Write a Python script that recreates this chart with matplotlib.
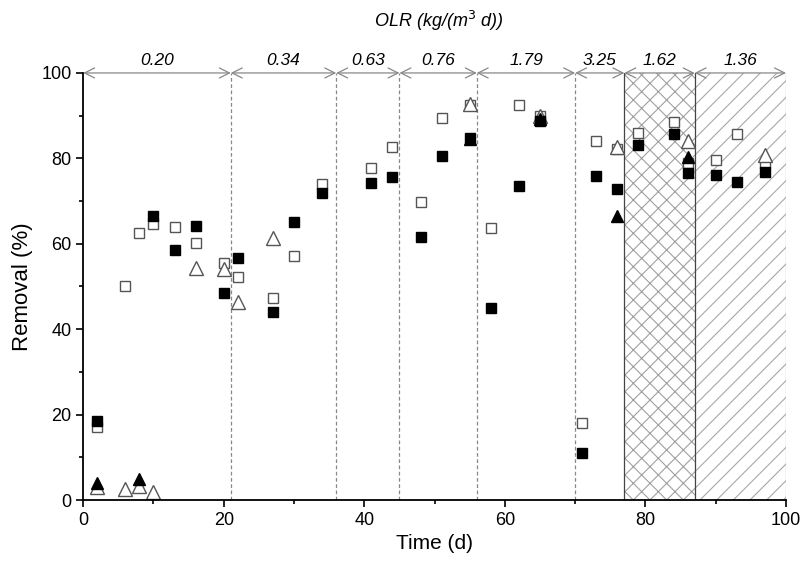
import numpy as np
import matplotlib
matplotlib.use('Agg')
import matplotlib.pyplot as plt
from matplotlib.patches import Rectangle

plt.rcParams['font.family'] = ['Liberation Sans', 'DejaVu Sans']
plt.rcParams['hatch.linewidth'] = 0.8

# filled squares
fsq_t = [2, 10, 13, 16, 20, 22, 27, 30, 34, 41, 44, 48, 51, 55, 58, 62, 65, 71, 73, 76, 79, 84, 86, 90, 93, 97]
fsq_v = [18.5, 66.5, 58.5, 64.1, 48.5, 56.7, 44.0, 65.0, 72.0, 74.3, 75.7, 61.7, 80.5, 84.8, 45.0, 73.5, 88.8,
         11.0, 75.8, 72.8, 83.1, 85.8, 76.5, 76.2, 74.5, 76.8]
# open squares
osq_t = [2, 6, 8, 10, 13, 16, 20, 22, 27, 30, 34, 41, 44, 48, 51, 55, 58, 62, 65, 71, 73, 76, 79, 84, 86, 90, 93, 97]
osq_v = [17.2, 50.0, 62.5, 64.6, 63.9, 60.1, 55.6, 52.2, 47.3, 57.2, 74.0, 77.7, 82.6, 69.9, 89.4, 92.6, 63.7, 92.6,
         90.0, 18.0, 84.0, 82.3, 86.0, 88.4, 79.0, 79.6, 85.6, 78.8]
# open triangles
otr_t = [2, 6, 8, 10, 16, 20, 22, 27, 55, 65, 76, 86, 97]
otr_v = [3.0, 2.5, 3.3, 1.9, 54.3, 54.0, 46.3, 61.3, 92.8, 90.0, 82.7, 84.0, 80.7]
# filled triangles
ftr_t = [2, 8, 55, 65, 76, 86]
ftr_v = [4.0, 5.0, 84.5, 89.2, 66.6, 80.4]

# OLR periods
bounds = [0, 21, 36, 45, 56, 70, 77, 87, 100]
olr = ['0.20', '0.34', '0.63', '0.76', '1.79', '3.25', '1.62', '1.36']

fig = plt.figure(figsize=(8, 5.7), dpi=100)
ax = fig.add_axes([0.104, 0.1228, 0.8785, 0.7492])

# hatched periods
ax.add_patch(Rectangle((77, 0), 10, 100, facecolor='none', edgecolor='#a0a0a0', hatch='xx', lw=0))
ax.add_patch(Rectangle((87, 0), 13, 100, facecolor='none', edgecolor='#a8a8a8', hatch='//', lw=0))
ax.plot([77, 77], [0, 100], color='#444444', lw=0.9)
ax.plot([87, 87], [0, 100], color='#444444', lw=0.9)
ax.plot([100, 100], [0, 100], color='#a0a0a0', lw=0.9)

for b in bounds[1:6]:
    ax.plot([b, b], [0, 100], color='#888888', lw=0.9, ls=(0, (3, 2)))

for i in range(len(olr)):
    x0, x1 = bounds[i], bounds[i + 1]
    ax.annotate('', xy=(x0, 100), xytext=(x1, 100),
                arrowprops=dict(arrowstyle='<->', color='#888888', lw=0.9,
                                shrinkA=0, shrinkB=0, mutation_scale=18),
                annotation_clip=False)
    ax.text((x0 + x1) / 2, 101.2, olr[i], ha='center', va='bottom',
            fontsize=12.5, style='italic')

ax.text(50.6, 112.2, 'OLR (kg/(m$^3$ d))', ha='center', va='center', fontsize=13, style='italic')

ax.plot(osq_t, osq_v, 's', ms=7.5, mfc='white', mec='#555555', mew=1.0, ls='none')
ax.plot(otr_t, otr_v, '^', ms=10, mfc='white', mec='#555555', mew=1.0, ls='none')
ax.plot(fsq_t, fsq_v, 's', ms=7.5, mfc='black', mec='black', ls='none')
ax.plot(ftr_t, ftr_v, '^', ms=9, mfc='black', mec='black', ls='none')

ax.set_xlim(0, 100)
ax.set_ylim(0, 100)
ax.set_xticks(np.arange(0, 101, 20))
ax.set_xticks(np.arange(10, 100, 20), minor=True)
ax.set_yticks(np.arange(0, 101, 20))
ax.set_yticks(np.arange(10, 100, 20), minor=True)
ax.tick_params(axis='both', which='major', direction='out', length=5, width=1.2, labelsize=13)
ax.tick_params(axis='both', which='minor', direction='out', length=3, width=1.2)
ax.spines['top'].set_visible(False)
ax.spines['right'].set_visible(False)
ax.spines['left'].set_linewidth(1.3)
ax.spines['bottom'].set_linewidth(1.3)

ax.set_xlabel('Time (d)', fontsize=15)
ax.set_ylabel('Removal (%)', fontsize=16, labelpad=6)

fig.savefig('out.png', dpi=100)
